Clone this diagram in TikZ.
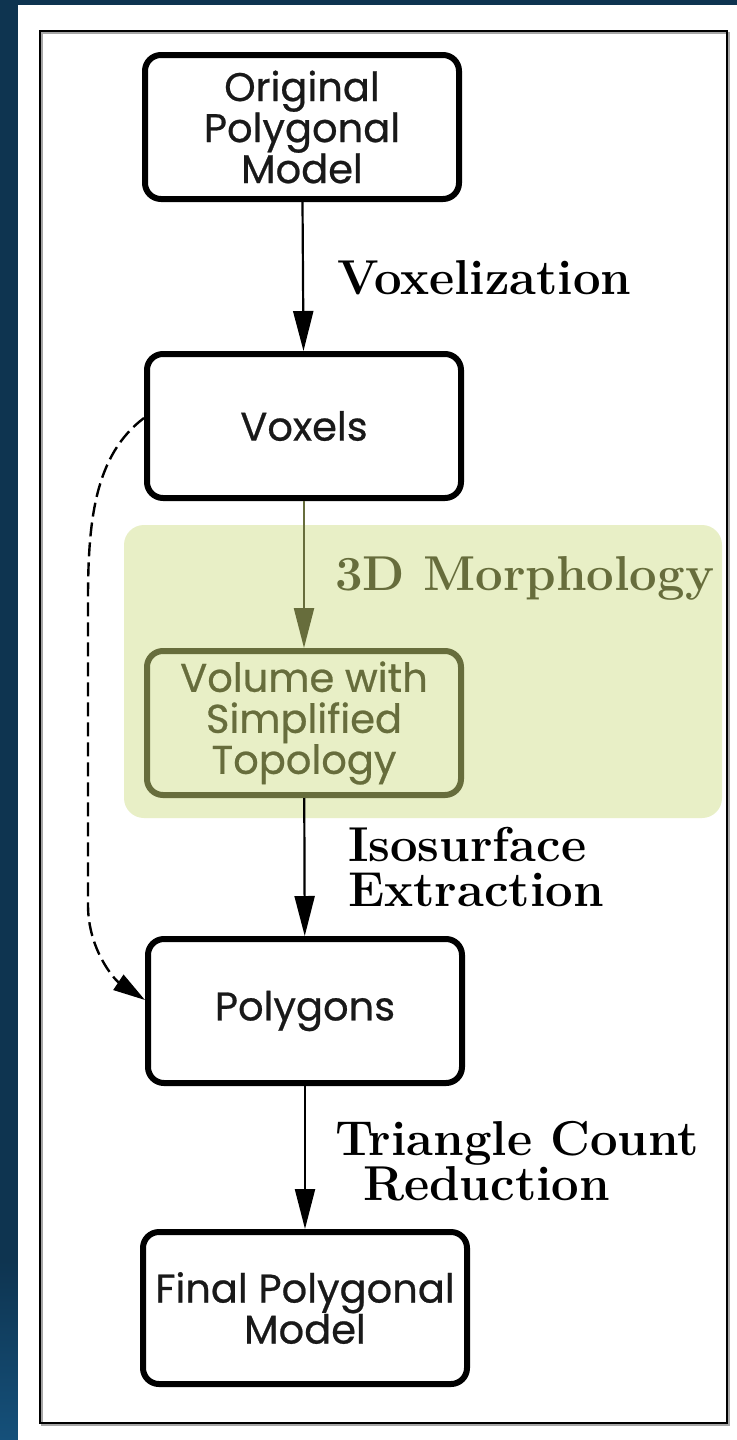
\documentclass[tikz,border=0pt]{standalone}
\usepackage{fontspec}
\newfontfamily\boxfont[FakeBold=0.6]{Poppins}
\usetikzlibrary{arrows.meta}
\definecolor{bgblue}{HTML}{0E3450}
\definecolor{edgeblue}{HTML}{15507A}
\definecolor{morphfill}{HTML}{E8EFC6}
\definecolor{olive}{HTML}{676D3C}
\tikzset{
  stagebox/.style={draw,rounded corners=8pt,line width=3pt,minimum width=157pt,
    minimum height=72pt,align=center,inner sep=2pt,text=black!90,
    font=\boxfont\fontsize{20}{20.5}\selectfont},
  steplabel/.style={anchor=west,align=left,font=\bfseries\fontsize{24.5}{22.5}\selectfont},
  flow/.style={line width=1.1pt,-{Triangle[length=20pt,width=10pt]}},
  shortcut/.style={line width=1.2pt,dash pattern=on 7pt off 3pt,
    -{Triangle[length=16pt,width=9pt]}}
}
\begin{document}
\begin{tikzpicture}[x=0.5pt,y=-0.5pt]
  \useasboundingbox (0,0) rectangle (737,1440);
  % page and frame
  \fill[bgblue] (0,0) rectangle (737,1440);
  \shade[top color=bgblue,bottom color=edgeblue] (0,1260) rectangle (18,1440);
  \fill[white] (18,5) rectangle (737,1440);
  \draw[black!35,line width=1pt] (42,33) rectangle (729,1425);
  \draw[line width=0.8pt] (40,31) rectangle (727,1423);
  % highlighted morphology step
  \fill[morphfill,rounded corners=10pt] (124,525) rectangle (722,818);

  \node[stagebox] (original) at (302,127) {Original\\Polygonal\\Model};
  \node[stagebox] (voxels) at (304,426) {Voxels};
  \node[stagebox,draw=olive,text=olive] (volume) at (304,723) {Volume with\\Simplified\\Topology};
  \node[stagebox] (polygons) at (305,1011) {Polygons};
  \node[stagebox,minimum width=162pt,minimum height=76pt] (final) at (305,1308) {Final Polygonal\\Model};

  \draw[flow] (original) -- (voxels);
  \draw[flow,olive] (voxels) -- (volume);
  \draw[flow] (volume) -- (polygons);
  \draw[flow] (polygons) -- (final);

  \node[steplabel] (voxlabel) at (330,278) {Voxelization};
  \node[steplabel,text=olive] (morphlabel) at (328,578) {3D Morphology};
  \node[steplabel] (isolabel) at (341,867) {Isosurface\\Extraction};
  \node[steplabel] (reducelabel) at (328,1161) {Triangle Count\\\hspace*{14pt}Reduction};

  % voxels can also be polygonized directly
  \draw[shortcut] ([yshift=4pt]voxels.west) .. controls (95,455) and (88,520) .. (88,600)
    -- (88,905) .. controls (88,950) and (115,980) .. ([yshift=5.5pt]polygons.west);
\end{tikzpicture}
\end{document}
